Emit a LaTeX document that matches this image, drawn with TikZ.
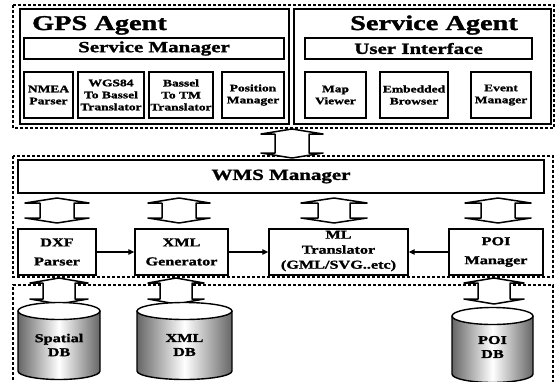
\documentclass[tikz,border=0pt]{standalone}
\usepackage{fontspec}
\setmainfont{Liberation Serif}[FakeStretch=1.35, BoldFeatures={FakeBold=1.5}]
\usetikzlibrary{fit,arrows.meta}

\newcommand\blockarr[6]{% cx, top tip, bottom tip, half width, shaft half, head h
  \draw[barr] (#1,#2) -- (#1+#4,#2+#6) -- (#1+#5,#2+#6) -- (#1+#5,#3-#6)
    -- (#1+#4,#3-#6) -- (#1,#3) -- (#1-#4,#3-#6) -- (#1-#5,#3-#6)
    -- (#1-#5,#2+#6) -- (#1-#4,#2+#6) -- cycle;}

\newcommand\dbcyl[6]{% x1, x2, top y, bottom y, ry, shade colour
  \shade[left color=#6, right color=#6, middle color=white]
    (#1,#3) -- (#1,#4) arc[start angle=180, end angle=0, x radius={(#2-#1)/2}, y radius=#5] -- (#2,#3) -- cycle;
  \draw[line width=1.4pt] (#1,#3) -- (#1,#4) arc[start angle=180, end angle=0, x radius={(#2-#1)/2}, y radius=#5] -- (#2,#3);
  \draw[line width=1.4pt, fill=white] ({(#1+#2)/2},#3) ellipse[x radius={(#2-#1)/2}, y radius=#5];}

\begin{document}
\begin{tikzpicture}[x=1pt,y=-1pt,
  region/.style={draw, dash pattern=on 3pt off 2pt, line width=1.1pt},
  outerbox/.style={draw, line width=1.5pt, inner sep=0pt},
  bar/.style={draw, line width=1.5pt, inner sep=0pt, align=center, font=\fontsize{15}{18}\selectfont\bfseries},
  bartext/.style={inner sep=0pt, font=\fontsize{15.5}{18}\selectfont\bfseries},
  smallbox/.style={draw, line width=1.4pt, inner sep=0pt, align=center, font=\fontsize{10}{12}\selectfont\bfseries},
  midbox/.style={draw, line width=1.4pt, inner sep=0pt, align=center, font=\fontsize{12}{19}\selectfont\bfseries},
  title/.style={inner sep=0pt, anchor=base west, font=\fontsize{21}{24}\selectfont\bfseries},
  dbtext/.style={inner sep=0pt, align=center, font=\fontsize{12}{14}\selectfont\bfseries},
  barr/.style={draw, fill=white, line width=1.5pt, line join=round},
  conn/.style={line width=1.2pt, -{Triangle[length=6pt,width=5.5pt]}}
]
\useasboundingbox[fill=white] (0,0) rectangle (556,381);

% ---------- top region ----------
\draw[region] (13,5) rectangle (554,128);
\node[outerbox, fit={(20,9) (289,124)}] (gps) {};
\node[outerbox, fit={(294,9) (551,124)}] (svc) {};
\node[title] (gpst) at (32,30) {GPS Agent};
\node[title] (svct) at (350,30) {Service Agent};
\node[bar, fit={(24,38) (284,59)}] (sm) {};
\node[bartext] (smt) at (sm.center) {Service Manager};
\node[bar, fit={(305,38) (532,59)}] (ui) {};
\node[bartext] (uit) at (ui.center) {User Interface};

\node[smallbox, fit={(24,72) (73,118)}] (nmea) {};
\node[smallbox, draw=none] (nmeat) at (nmea.center) {NMEA\\Parser};
\node[smallbox, fit={(78,72) (144,118)}] (wgs) {};
\node[smallbox, draw=none] (wgst) at (wgs.center) {WGS84\\To Bassel\\Translator};
\node[smallbox, fit={(149,72) (213,118)}] (btm) {};
\node[smallbox, draw=none] (btmt) at (btm.center) {Bassel\\To TM\\Translator};
\node[smallbox, fit={(222,72) (284,118)}] (pos) {};
\node[smallbox, draw=none] (post) at (pos.center) {Position\\Manager};

\node[smallbox, fit={(305,72) (366,118)}] (map) {};
\node[smallbox, draw=none] (mapt) at (map.center) {Map\\Viewer};
\node[smallbox, fit={(380,72) (448,118)}] (emb) {};
\node[smallbox, draw=none] (embt) at (emb.center) {Embedded\\Browser};
\node[smallbox, fit={(471,72) (531,118)}] (evt) {};
\node[smallbox, draw=none] (evtt) at (evt.center) {Event\\Manager};

% ---------- WMS region ----------
\draw[region] (13,156) rectangle (553,277);
\node[bar, fit={(18,160) (544,193)}] (wms) {};
\node[bartext] (wmst) at (wms.center) {WMS Manager};

\node[midbox, fit={(18,229) (96,275)}] (dxf) {};
\node[midbox, draw=none] (dxft) at (dxf.center) {DXF\\Parser};
\node[midbox, fit={(135,229) (228,275)}] (xml) {};
\node[midbox, draw=none] (xmlt) at (xml.center) {XML\\Generator};
\node[midbox, fit={(269,229) (408,275)}] (ml) {};
\node[midbox, draw=none, font=\fontsize{12}{15}\selectfont\bfseries] (mlt) at ([yshift=1pt]ml.center) {ML\\Translator\\(GML/SVG..etc)};
\node[midbox, fit={(449,229) (543,275)}] (poi) {};
\node[midbox, draw=none] (poit) at (poi.center) {POI\\Manager};

\draw[conn] (dxf.east) -- (xml.west);
\draw[conn] (xml.east) -- (ml.west);
\draw[conn] (poi.west) -- (ml.east);

% ---------- DB region ----------
\draw[region] (13,395) -- (13,285) -- (553,285) -- (553,395);

% block arrows
\blockarr{292}{129}{158}{31}{17}{5}
\blockarr{57}{198}{223}{32}{17}{5}
\blockarr{179}{198}{223}{31}{17}{5}
\blockarr{334}{198}{223}{33}{16}{5}
\blockarr{498}{198}{223}{33}{17}{5}
\blockarr{59}{278}{304}{29}{16}{5}
\blockarr{176}{278}{304}{28}{16}{5}
\blockarr{494}{278}{304}{30}{16}{5}

% databases
\dbcyl{18}{100}{311}{371}{8.5}{black!60}
\node[dbtext] (sdb) at (59,345) {Spatial\\DB};
\dbcyl{137}{232}{311}{371}{8.5}{black!60}
\node[dbtext] (xdb) at (184.5,345) {XML\\DB};
\dbcyl{452}{533}{316}{374}{8.5}{black!60}
\node[dbtext] (pdb) at (492.5,347) {POI\\DB};
\end{tikzpicture}
\end{document}
